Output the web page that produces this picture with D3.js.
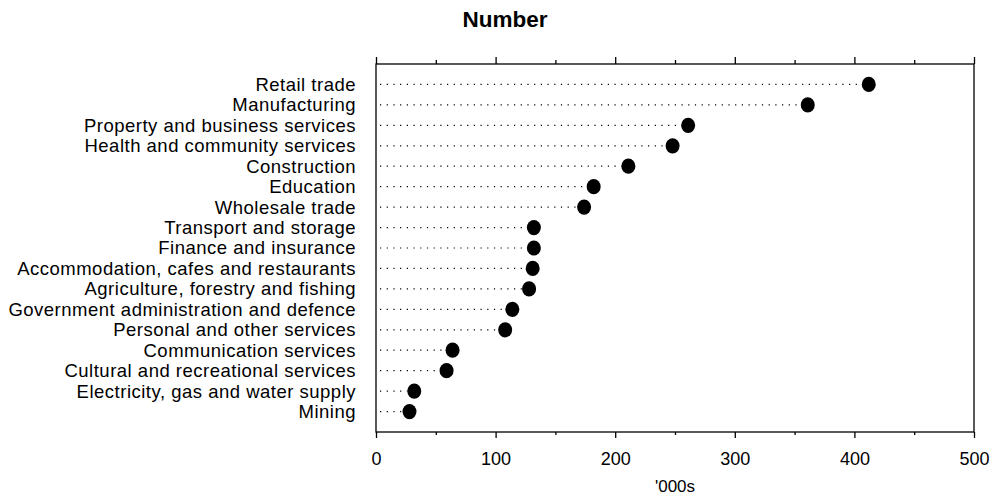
<!DOCTYPE html>
<html><head><meta charset="utf-8">
<script src="https://cdn.jsdelivr.net/npm/d3@7"></script>
<style>
body{margin:0;background:#fff;}
text{font-family:"Liberation Sans",Arial,Helvetica,sans-serif;fill:#000;}
</style></head>
<body><svg id="chart" width="996" height="495"></svg>
<script>
const categories = ["Retail trade","Manufacturing","Property and business services","Health and community services","Construction","Education","Wholesale trade","Transport and storage","Finance and insurance","Accommodation, cafes and restaurants","Agriculture, forestry and fishing","Government administration and defence","Personal and other services","Communication services","Cultural and recreational services","Electricity, gas and water supply","Mining"];
const values = [412, 361, 261, 248, 211, 182, 174, 132, 132, 131, 128, 114, 108, 64, 59, 32, 28];
const majorTicks = [0, 100, 200, 300, 400, 500];
const minorTicks = [50, 150, 250, 350, 450];
const title = "Number";
const xTitle = "'000s";

const svg = d3.select("#chart");
const m = {left: 376, right: 974, top: 64, bottom: 432};
const x = d3.scaleLinear().domain([0, 500]).range([m.left, m.right]);
const y = d3.scalePoint().domain(categories).range([m.top, m.bottom]).padding(1);

// frame
svg.append("rect").attr("x", m.left).attr("y", m.top)
  .attr("width", m.right - m.left).attr("height", m.bottom - m.top)
  .attr("fill", "none").attr("stroke", "#000").attr("stroke-width", 1.3);

// bottom axis ticks
const gBottom = svg.append("g").attr("transform", `translate(0,${m.bottom})`);
gBottom.call(d3.axisBottom(x).tickValues(majorTicks).tickSize(6).tickPadding(14).tickFormat(d3.format("d")));
gBottom.select(".domain").remove();
gBottom.selectAll("line").attr("stroke", "#000").attr("stroke-width", 1.3);
gBottom.selectAll("text").attr("font-size", 18).attr("font-family", "Liberation Sans, Arial, sans-serif");
const gBottomMinor = svg.append("g").attr("transform", `translate(0,${m.bottom})`);
gBottomMinor.call(d3.axisBottom(x).tickValues(minorTicks).tickSize(3).tickFormat(""));
gBottomMinor.select(".domain").remove();
gBottomMinor.selectAll("line").attr("stroke", "#000").attr("stroke-width", 1.3);

// top axis ticks
const gTop = svg.append("g").attr("transform", `translate(0,${m.top})`);
gTop.call(d3.axisTop(x).tickValues(majorTicks).tickSize(7).tickFormat(""));
gTop.select(".domain").remove();
gTop.selectAll("line").attr("stroke", "#000").attr("stroke-width", 1.3);
const gTopMinor = svg.append("g").attr("transform", `translate(0,${m.top})`);
gTopMinor.call(d3.axisTop(x).tickValues(minorTicks).tickSize(4).tickFormat(""));
gTopMinor.select(".domain").remove();
gTopMinor.selectAll("line").attr("stroke", "#000").attr("stroke-width", 1.3);

// category labels
svg.append("g").selectAll("text").data(categories).join("text")
  .attr("x", 356).attr("y", d => y(d)).attr("dy", "0.35em")
  .attr("text-anchor", "end").attr("font-size", 18.5)
  .attr("letter-spacing", "0.5px").text(d => d);

// dotted leaders
svg.append("g").selectAll("line").data(categories).join("line")
  .attr("x1", x(0) + 4).attr("x2", (d, i) => x(values[i]) - 7)
  .attr("y1", d => y(d)).attr("y2", d => y(d))
  .attr("stroke", "#000").attr("stroke-width", 1.2).attr("stroke-dasharray", "1.2,5.5");

// dots
svg.append("g").selectAll("ellipse").data(categories).join("ellipse")
  .attr("cx", (d, i) => x(values[i])).attr("cy", d => y(d))
  .attr("rx", 7).attr("ry", 7.6).attr("fill", "#000");

// titles
svg.append("text").attr("x", 505).attr("y", 27).attr("text-anchor", "middle")
  .attr("font-size", 22.5).attr("font-weight", "bold").text(title);
svg.append("text").attr("x", x(250)).attr("y", 492).attr("text-anchor", "middle")
  .attr("font-size", 17).text(xTitle);
</script></body></html>
